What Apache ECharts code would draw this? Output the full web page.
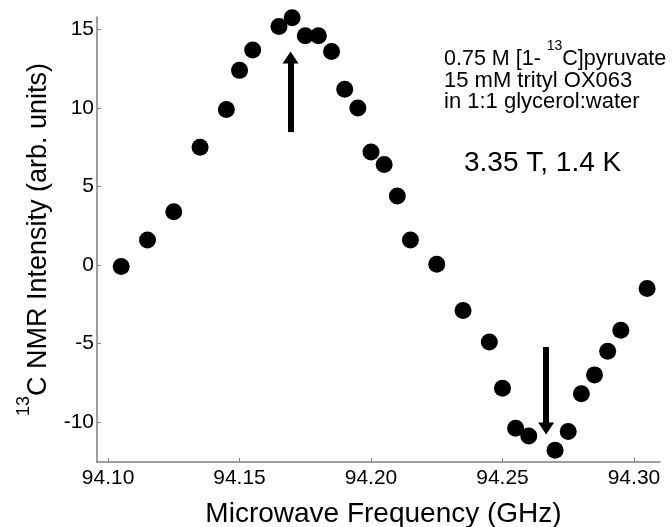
<!DOCTYPE html>
<html>
<head>
<meta charset="utf-8">
<script src="https://cdn.jsdelivr.net/npm/echarts@6/dist/echarts.min.js"></script>
<style>
html,body{margin:0;padding:0;background:#fff;}
#chart{width:672px;height:527px;}
</style>
</head>
<body>
<div id="chart"></div>
<script>
// Data
const frequencyGHz = [94.105, 94.115, 94.125, 94.135, 94.145, 94.150, 94.155, 94.165, 94.170, 94.175,
  94.180, 94.185, 94.190, 94.195, 94.200, 94.205, 94.210, 94.215, 94.225, 94.235,
  94.245, 94.250, 94.255, 94.260, 94.270, 94.275, 94.280, 94.285, 94.290, 94.295, 94.305];
const intensity = [-0.1, 1.6, 3.4, 7.5, 9.9, 12.4, 13.7, 15.2, 15.75, 14.6,
  14.6, 13.6, 11.2, 10.0, 7.2, 6.4, 4.4, 1.6, 0.05, -2.9,
  -4.9, -7.85, -10.4, -10.9, -11.8, -10.6, -8.2, -7.0, -5.5, -4.15, -1.5];
const xTicks = [94.10, 94.15, 94.20, 94.25, 94.30];
const yTicks = [-10, -5, 0, 5, 10, 15];
// arrows: [x, fromY, toY]
const upArrow = [94.1694, 8.47, 13.22];
const downArrow = [94.2666, -5.22, -10.41];

const FONT = '"Liberation Sans", Arial, sans-serif';
const points = frequencyGHz.map((f, i) => [f, intensity[i]]);

const chart = echarts.init(document.getElementById('chart'), null, {renderer: 'canvas'});
const axisColor = '#7f7f7f';
chart.setOption({
  animation: false,
  backgroundColor: '#ffffff',
  grid: {left: 97, right: 12, top: 17, bottom: 65, containLabel: false, outerBoundsMode: 'none'},
  xAxis: {
    type: 'value', min: 94.0958, max: 94.3099,
    name: 'Microwave Frequency (GHz)', nameLocation: 'middle', nameGap: 38,
    nameTextStyle: {fontFamily: FONT, fontSize: 28, color: '#000', padding: [0, 0, 0, 10]},
    axisLine: {show: true, onZero: false, lineStyle: {color: axisColor, width: 1.5}},
    axisTick: {show: true, inside: true, length: 4, customValues: xTicks, lineStyle: {color: axisColor, width: 1}},
    axisLabel: {customValues: xTicks, fontFamily: FONT, fontSize: 21, color: '#000', margin: 6,
      formatter: v => Number(v).toFixed(2)},
    splitLine: {show: false}
  },
  yAxis: {
    type: 'value', min: -12.55, max: 15.8,
    name: '{s|13}{b|C NMR Intensity (arb. units)}', nameLocation: 'middle', nameGap: 34,
    nameTextStyle: {fontFamily: FONT, color: '#000',
      rich: {
        b: {fontFamily: FONT, fontSize: 27, lineHeight: 48, color: '#000'},
        s: {fontFamily: FONT, fontSize: 18, lineHeight: 18, verticalAlign: 'top', color: '#000'}
      }},
    axisLine: {show: true, onZero: false, lineStyle: {color: axisColor, width: 1.5}},
    axisTick: {show: true, inside: true, length: 4, customValues: yTicks, lineStyle: {color: axisColor, width: 1}},
    axisLabel: {customValues: yTicks, fontFamily: FONT, fontSize: 21, color: '#000', margin: 3},
    splitLine: {show: false}
  },
  series: [{
    type: 'scatter',
    data: points,
    symbol: 'circle',
    symbolSize: 17,
    itemStyle: {color: '#000', opacity: 1},
    silent: true,
    markLine: {
      silent: true,
      animation: false,
      label: {show: false},
      lineStyle: {color: '#000', width: 6, type: 'solid'},
      symbol: ['none', 'triangle'],
      data: [
        [{coord: [upArrow[0], upArrow[1]], symbol: 'none'},
         {coord: [upArrow[0], upArrow[2]], symbol: 'triangle', symbolSize: [16, 12]}],
        [{coord: [downArrow[0], downArrow[1]], symbol: 'none'},
         {coord: [downArrow[0], downArrow[2]], symbol: 'triangle', symbolSize: [16, 12]}]
      ]
    }
  }],
  graphic: [
    {type: 'text', left: 444, top: 39.5, silent: true,
      style: {text: '{a|0.75 M [1- }{s|13}{a|C]pyruvate}', fill: '#000',
        rich: {
          a: {fontFamily: FONT, fontSize: 21.5, lineHeight: 39, fill: '#000'},
          s: {fontFamily: FONT, fontSize: 14, lineHeight: 14, verticalAlign: 'top', fill: '#000'}
        }}},
    {type: 'text', x: 444, y: 80.5, silent: true,
      style: {text: '15 mM trityl OX063', font: '22px ' + FONT, fill: '#000', verticalAlign: 'middle'}},
    {type: 'text', x: 444, y: 102, silent: true,
      style: {text: 'in 1:1 glycerol:water', font: '22px ' + FONT, fill: '#000', verticalAlign: 'middle'}},
    {type: 'text', x: 464, y: 163.5, silent: true,
      style: {text: '3.35 T, 1.4 K', font: '28px ' + FONT, fill: '#000', verticalAlign: 'middle'}}
  ]
});
</script>
</body>
</html>
